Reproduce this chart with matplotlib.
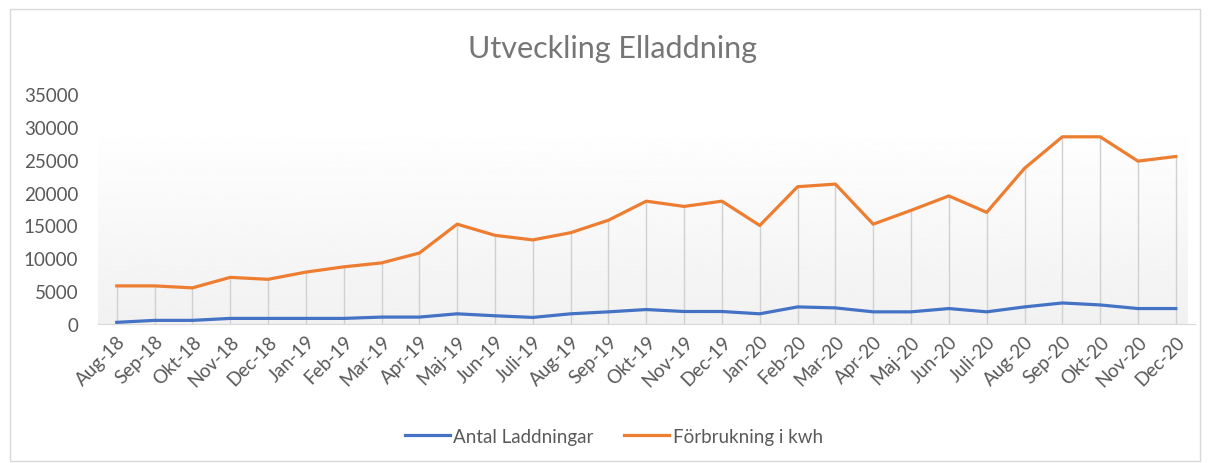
import matplotlib.pyplot as plt
import numpy as np
from matplotlib.patches import Rectangle

plt.rcParams['font.family'] = ['Lato', 'DejaVu Sans']

months = ['Aug-18', 'Sep-18', 'Okt-18', 'Nov-18', 'Dec-18', 'Jan-19', 'Feb-19', 'Mar-19',
          'Apr-19', 'Maj-19', 'Jun-19', 'Juli-19', 'Aug-19', 'Sep-19', 'Okt-19', 'Nov-19',
          'Dec-19', 'Jan-20', 'Feb-20', 'Mar-20', 'Apr-20', 'Maj-20', 'Jun-20', 'Juli-20',
          'Aug-20', 'Sep-20', 'Okt-20', 'Nov-20', 'Dec-20']
antal = [250, 550, 550, 850, 850, 850, 850, 1050, 1050, 1550, 1250, 1000, 1550, 1850,
         2200, 1900, 1900, 1550, 2600, 2450, 1850, 1850, 2350, 1850, 2600, 3200, 2900,
         2350, 2350]
forbrukning = [5800, 5800, 5500, 7100, 6800, 7900, 8700, 9300, 10800, 15200, 13500,
               12800, 13900, 15800, 18700, 17900, 18700, 15000, 20900, 21300, 15200,
               17300, 19500, 17000, 23700, 28500, 28500, 24800, 25500]

grey = '#595959'
x = np.arange(len(months))

fig = plt.figure(figsize=(12.08, 4.64), dpi=100)
fig.patches.append(Rectangle((0.008, 0.004), 0.985, 0.975, transform=fig.transFigure,
                             fill=False, edgecolor='#d9d9d9', linewidth=1))
ax = fig.add_axes([0.081, 0.2996, 0.908, 0.4954])

# gradient background of plot area
grad = np.linspace(0.945, 1.0, 256).reshape(-1, 1)
ax.imshow(grad, cmap='gray', vmin=0, vmax=1, aspect='auto', origin='lower',
          extent=(-0.5, 28.3, 0, 30600), zorder=0)

# drop lines
ax.vlines(x, 0, forbrukning, colors='#d0d0d0', linewidth=1, zorder=1)

ax.plot(x, antal, color='#4472C4', linewidth=2.3, label='Antal Laddningar', zorder=3)
ax.plot(x, forbrukning, color='#ED7D31', linewidth=2.3, label='Förbrukning i kwh', zorder=3)

ax.set_xlim(-0.5, 28.5)
ax.set_ylim(0, 35000)
ax.set_yticks(range(0, 35001, 5000))
ax.set_xticks(x)
ax.set_xticklabels(months, rotation=45, ha='right', rotation_mode='anchor')
ax.tick_params(axis='both', colors=grey, labelsize=13.5, length=0)
ax.tick_params(axis='y', pad=14)
ax.tick_params(axis='x', pad=6)
for s in ['top', 'right', 'left']:
    ax.spines[s].set_visible(False)
ax.spines['bottom'].set_color('#d9d9d9')
ax.set_facecolor('none')

fig.text(0.507, 0.895, 'Utveckling Elladdning', ha='center', va='center',
         fontsize=22, color='#767676')

fig.legend(loc='center', bbox_to_anchor=(0.508, 0.058), ncol=2, frameon=False,
           fontsize=13.5, labelcolor=grey, handlelength=2.4, columnspacing=1.6,
           handletextpad=0.2)

fig.savefig('out.png', dpi=100)
